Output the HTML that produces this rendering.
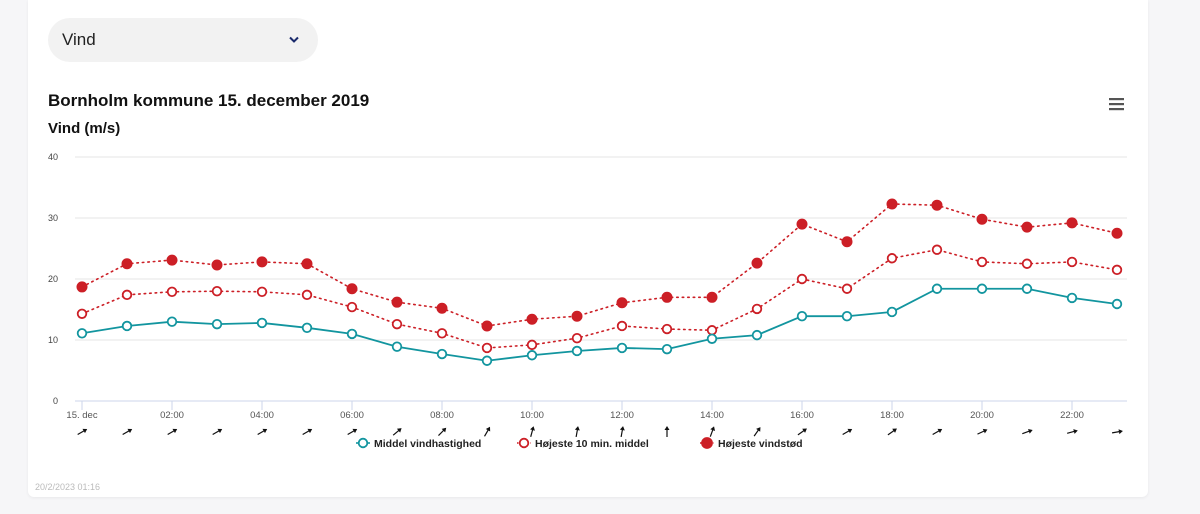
<!DOCTYPE html>
<html><head><meta charset="utf-8"><style>
body{margin:0;width:1200px;height:514px;background:#f6f6f8;font-family:"Liberation Sans",sans-serif;overflow:hidden;position:relative}
#card{position:absolute;left:28px;top:0;width:1120px;height:497px;background:#fff;border-radius:0 0 6px 6px;box-shadow:0 1px 3px rgba(0,0,0,.06)}
#dd{position:absolute;left:48px;top:18px;width:270px;height:44px;border-radius:22px;background:#f2f2f2;font-size:17px;color:#222;line-height:44px;box-sizing:border-box;padding-left:14px}
#dd svg{position:absolute;left:241px;top:18px}
#c{position:absolute;left:0;top:0}
</style></head><body>
<div id="card"></div>
<div id="dd">Vind<svg width="10" height="8"><path d="M1,1.5 L5,5.5 L9,1.5" fill="none" stroke="#1a2a6c" stroke-width="2"/></svg></div>
<svg id="c" width="1200" height="514">
<text x="48" y="106" font-size="17" font-weight="bold" fill="#111">Bornholm kommune 15. december 2019</text>
<text x="48" y="133" font-size="15" font-weight="bold" fill="#111">Vind (m/s)</text>
<g><rect x="1109" y="98" width="15" height="2.2" fill="#555"/><rect x="1109" y="103" width="15" height="2.2" fill="#555"/><rect x="1109" y="108" width="15" height="2.2" fill="#555"/></g>
<text x="35" y="490" font-size="9" fill="#bbb">20/2/2023 01:16</text>
<g id="g"></g>
</svg>
<script>
const hours=[0,1,2,3,4,5,6,7,8,9,10,11,12,13,14,15,16,17,18,19,20,21,22,23];
const yTicks=[0,10,20,30,40];
const xLabels=["15. dec","02:00","04:00","06:00","08:00","10:00","12:00","14:00","16:00","18:00","20:00","22:00"];
const middel=[11.1,12.3,13,12.6,12.8,12,11,8.9,7.7,6.6,7.5,8.2,8.7,8.5,10.2,10.8,13.9,13.9,14.6,18.4,18.4,18.4,16.9,15.9];
const max10=[14.3,17.4,17.9,18,17.9,17.4,15.4,12.6,11.1,8.7,9.2,10.3,12.3,11.8,11.6,15.1,20,18.4,23.4,24.8,22.8,22.5,22.8,21.5];
const gust=[18.7,22.5,23.1,22.3,22.8,22.5,18.4,16.2,15.2,12.3,13.4,13.9,16.1,17,17,22.6,29,26.1,32.3,32.1,29.8,28.5,29.2,27.5];
const dirs=[60,60,60,60,60,60,60,50,45,30,15,10,10,0,20,35,55,60,55,60,65,70,75,80];
const X=h=>82+h*45, Y=v=>401-v*6.1;
const g=document.getElementById('g');const NS='http://www.w3.org/2000/svg';
function mk(t,a){const e=document.createElementNS(NS,t);for(const k in a)e.setAttribute(k,a[k]);g.appendChild(e);return e;}
yTicks.forEach(v=>{
 const l=mk('line',{x1:75,x2:1127,y1:Y(v),y2:Y(v),stroke:v?'#e6e6e6':'#ccd6eb','stroke-width':1});
 
 
 const t=mk('text',{x:58,y:Y(v)+3,'font-size':9,fill:'#444','text-anchor':'end'});t.textContent=v;
 
 
});
xLabels.forEach((s,i)=>{const x=X(i*2);
 const l=mk('line',{x1:x,x2:x,y1:401,y2:410,stroke:'#ccd6eb'});
 
 
 const t=mk('text',{x:x,y:418,'font-size':9.5,fill:'#555','text-anchor':'middle'});t.textContent=s;
 
 
});
dirs.forEach((d,i)=>{const a=mk('g',{transform:`translate(${X(i)},432) rotate(${d})`});
 
 
 const l=document.createElementNS(NS,'line');l.setAttribute('x1',0);l.setAttribute('y1',5);l.setAttribute('x2',0);l.setAttribute('y2',-3);l.setAttribute('stroke','#111');l.setAttribute('stroke-width',1.2);a.appendChild(l);
 const p=document.createElementNS(NS,'path');p.setAttribute('d','M-2.5,-2 L0,-6 L2.5,-2Z');p.setAttribute('fill','#111');a.appendChild(p);
});
function series(vals,col,dash,fill,name){
 const pl=mk('polyline',{points:vals.map((v,i)=>X(hours[i])+','+Y(v)).join(' '),fill:'none',stroke:col,'stroke-width':dash?1.6:1.8,'stroke-dasharray':dash?'1.5,4':'none','stroke-linecap':'round'});
 
 
 vals.forEach((v,i)=>{const c=mk('circle',{cx:X(hours[i]),cy:Y(v),r:fill?5:4.3,fill:fill?col:'#fff',stroke:col,'stroke-width':fill?1:1.8});
  
  });
}
series(gust,'#cc1f26',true,true,'gust');
series(max10,'#cc1f26',true,false,'max10');
series(middel,'#12959f',false,false,'middel');
const leg=[['Middel vindhastighed','#12959f',false,false,356],['Højeste 10 min. middel','#cc1f26',true,false,517],['Højeste vindstød','#cc1f26',true,true,700]];
leg.forEach(([s,c,d,f,x])=>{
 const lg=mk('g',{});
 
 
 const l=document.createElementNS(NS,'line');l.setAttribute('x1',x);l.setAttribute('x2',x+14);l.setAttribute('y1',443);l.setAttribute('y2',443);l.setAttribute('stroke',c);l.setAttribute('stroke-width',1.6);if(d)l.setAttribute('stroke-dasharray','1.5,3');lg.appendChild(l);
 const ci=document.createElementNS(NS,'circle');ci.setAttribute('cx',x+7);ci.setAttribute('cy',443);ci.setAttribute('r',f?5:4.3);ci.setAttribute('fill',f?c:'#fff');ci.setAttribute('stroke',c);ci.setAttribute('stroke-width',1.8);lg.appendChild(ci);
 const t=document.createElementNS(NS,'text');t.setAttribute('x',x+18);t.setAttribute('y',447);t.setAttribute('font-size',10.5);t.setAttribute('font-weight','bold');t.setAttribute('fill','#222');t.textContent=s;lg.appendChild(t);
});
</script>
</body></html>
